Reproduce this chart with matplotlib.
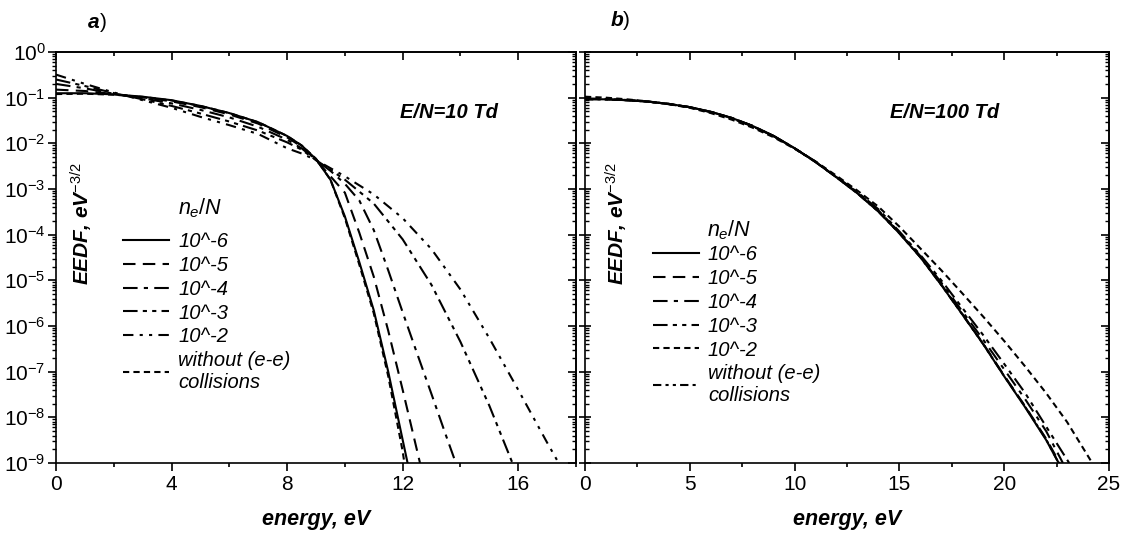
import numpy as np
import matplotlib
matplotlib.use('Agg')
import matplotlib.pyplot as plt
from matplotlib.ticker import LogLocator, MultipleLocator, NullFormatter

plt.rcParams['font.family'] = 'Liberation Sans'
plt.rcParams['mathtext.fontset'] = 'custom'
plt.rcParams['mathtext.rm'] = 'Liberation Sans'
plt.rcParams['mathtext.it'] = 'Liberation Sans:italic'
plt.rcParams['mathtext.bf'] = 'Liberation Sans:bold'

# ---- panel a) E/N = 10 Td ----
a_E_e6 = [0, 1, 2, 3, 4, 5, 6, 7, 8, 8.5, 9, 9.5, 10, 10.5, 11, 11.5, 12, 12.17]
a_F_e6 = [0.125, 0.125, 0.118, 0.105, 0.088, 0.066, 0.046, 0.029, 0.0145, 0.009, 0.0045,
          1.6e-3, 2.5e-4, 2.5e-5, 2.2e-6, 1e-7, 3.2e-9, 1e-9]
a_E_e5 = [0, 1, 2, 3, 4, 5, 6, 7, 8, 8.5, 9, 9.5, 10, 10.5, 11, 11.5, 12, 12.6]
a_F_e5 = [0.15, 0.14, 0.12, 0.102, 0.083, 0.062, 0.043, 0.027, 0.0135, 0.0085, 0.0043,
          1.9e-3, 8.3e-4, 1.1e-4, 1.2e-5, 7.9e-7, 4e-8, 1e-9]
a_E_e4 = [0, 1, 2, 3, 4, 5, 6, 7, 8, 8.5, 9, 9.5, 10, 10.5, 11, 11.5, 12, 12.5, 13, 13.5, 13.84]
a_F_e4 = [0.2, 0.16, 0.122, 0.097, 0.075, 0.054, 0.037, 0.023, 0.012, 0.0078, 0.0043,
          2.5e-3, 1.3e-3, 5.6e-4, 1.26e-4, 1.66e-5, 2e-6, 2.5e-7, 3.2e-8, 4e-9, 1e-9]
a_E_e3 = [0, 1, 2, 3, 4, 5, 6, 7, 8, 8.5, 9, 10, 11, 12, 13, 14, 15, 15.8]
a_F_e3 = [0.25, 0.18, 0.126, 0.092, 0.066, 0.045, 0.03, 0.019, 0.0105, 0.0073, 0.0043,
          1.6e-3, 4.8e-4, 7.9e-5, 7.9e-6, 4.5e-7, 1.8e-8, 1e-9]
a_E_e2 = [0, 1, 2, 3, 4, 5, 6, 7, 8, 8.5, 9, 10, 11, 12, 13, 14, 15, 16, 17, 17.4]
a_F_e2 = [0.32, 0.2, 0.13, 0.088, 0.06, 0.038, 0.025, 0.016, 0.0078, 0.006, 0.0043,
          1.9e-3, 7.6e-4, 2.3e-4, 4.8e-5, 6.3e-6, 5.4e-7, 4e-8, 2.8e-9, 1e-9]
a_E_wo = [0, 1, 2, 3, 4, 5, 6, 7, 8, 8.5, 9, 9.5, 10, 10.5, 11, 11.5, 12, 12.06]
a_F_wo = [0.12, 0.122, 0.116, 0.104, 0.087, 0.066, 0.046, 0.029, 0.0145, 0.009, 0.0046,
          1.6e-3, 2.3e-4, 2.2e-5, 1.9e-6, 8e-8, 1.8e-9, 1e-9]

# ---- panel b) E/N = 100 Td ----
b_E = [0, 1, 2, 3, 4, 5, 6, 7, 8, 9, 10, 11, 12, 13, 14, 15, 16, 17, 18, 19, 20, 21, 22]
b_F_e6 = [0.093, 0.092, 0.088, 0.082, 0.073, 0.062, 0.049, 0.036, 0.024, 0.0145, 0.0078,
          3.9e-3, 1.8e-3, 8e-4, 3.2e-4, 1.07e-4, 3.2e-5, 7.9e-6, 1.8e-6, 4e-7, 7.9e-8,
          1.66e-8, 3.2e-9]
b_F_e5 = [0.093, 0.092, 0.088, 0.082, 0.073, 0.062, 0.049, 0.036, 0.024, 0.0145, 0.0078,
          3.9e-3, 1.8e-3, 8.1e-4, 3.25e-4, 1.09e-4, 3.3e-5, 8.1e-6, 1.85e-6, 4.1e-7, 8.2e-8,
          1.75e-8, 3.4e-9]
b_F_e4 = [0.094, 0.093, 0.088, 0.082, 0.073, 0.062, 0.049, 0.036, 0.024, 0.0145, 0.0078,
          3.9e-3, 1.82e-3, 8.3e-4, 3.4e-4, 1.12e-4, 3.4e-5, 8.9e-6, 2.1e-6, 5e-7, 1.12e-7,
          2.5e-8, 5e-9]
b_F_e3 = [0.096, 0.094, 0.089, 0.082, 0.072, 0.061, 0.048, 0.035, 0.0235, 0.0143, 0.0078,
          4e-3, 1.85e-3, 8.5e-4, 3.6e-4, 1.17e-4, 3.6e-5, 1e-5, 2.5e-6, 6.3e-7, 1.48e-7,
          3.4e-8, 6.3e-9]
b_F_e2 = [0.105, 0.1, 0.092, 0.083, 0.072, 0.06, 0.046, 0.033, 0.022, 0.0136, 0.0076,
          4e-3, 1.95e-3, 9.2e-4, 4.1e-4, 1.5e-4, 5e-5, 1.66e-5, 5.2e-6, 1.6e-6, 4.7e-7,
          1.3e-7, 3.4e-8]
b_F_wo = [0.092, 0.091, 0.088, 0.082, 0.073, 0.062, 0.049, 0.036, 0.024, 0.0145, 0.0078,
          3.9e-3, 1.8e-3, 8e-4, 3.2e-4, 1.07e-4, 3.2e-5, 7.9e-6, 1.8e-6, 4e-7, 8e-8,
          1.7e-8, 3.3e-9]
# where each curve reaches the bottom of the panel (1e-9)
b_E_end = {'e6': 22.6, 'e5': 22.65, 'e4': 22.8, 'e3': 23.1, 'e2': 24.2, 'wo': 22.6}
b_E_e2_extra = [23]
b_F_e2_extra = [7.9e-9]

labels = ['10^-6', '10^-5', '10^-4', '10^-3', '10^-2', 'without (e-e)\ncollisions']

SOLID = '-'
DASH = (0, (6, 3.5))
DASHDOT = (0, (7, 3, 2, 3))
DASHDOTDOT = (0, (7, 2.5, 2, 2.5, 2, 2.5))
DASHDOTDOT2 = (0, (5, 3, 1.5, 3, 1.5, 3))
SHORTDASH = (0, (3, 2))
SHORTDASHDOT = (0, (4, 2, 1.5, 2, 1.5, 2))


def tail(E, F, end, extra_E=(), extra_F=()):
    return list(E) + list(extra_E) + [end], list(F) + list(extra_F) + [1e-9]


a_series = [(a_E_e6, a_F_e6, SOLID), (a_E_e5, a_F_e5, DASH), (a_E_e4, a_F_e4, DASHDOT),
            (a_E_e3, a_F_e3, DASHDOTDOT), (a_E_e2, a_F_e2, DASHDOTDOT2),
            (a_E_wo, a_F_wo, SHORTDASH)]
b_series = [(*tail(b_E, b_F_e6, b_E_end['e6']), SOLID),
            (*tail(b_E, b_F_e5, b_E_end['e5']), DASH),
            (*tail(b_E, b_F_e4, b_E_end['e4']), DASHDOT),
            (*tail(b_E, b_F_e3, b_E_end['e3']), DASHDOTDOT),
            (*tail(b_E, b_F_e2, b_E_end['e2'], b_E_e2_extra, b_F_e2_extra), SHORTDASH),
            (*tail(b_E, b_F_wo, b_E_end['wo']), SHORTDASHDOT)]

W, H = 1125, 538
fig = plt.figure(figsize=(W / 100, H / 100), dpi=100)
ax_a = fig.add_axes([56 / W, 75 / H, 520 / W, 411 / H])
ax_b = fig.add_axes([585 / W, 75 / H, 524 / W, 411 / H])


def style_axes(ax, xmax, xmajor, xminor, left_dir, left_labels):
    ax.set_yscale('log')
    ax.set_ylim(1e-9, 1)
    ax.set_xlim(0, xmax)
    for sp in ax.spines.values():
        sp.set_linewidth(1.2)
    ax.xaxis.set_major_locator(MultipleLocator(xmajor))
    ax.xaxis.set_minor_locator(MultipleLocator(xminor))
    ax.yaxis.set_major_locator(LogLocator(base=10, numticks=20))
    ax.yaxis.set_minor_locator(LogLocator(base=10, subs=np.arange(2, 10), numticks=200))
    ax.yaxis.set_minor_formatter(NullFormatter())
    ax.tick_params(axis='x', which='major', direction='out', length=5.5, width=1.2,
                   labelsize=15, pad=3, top=False)
    ax.tick_params(axis='x', which='minor', direction='out', length=3.2, width=1.2, top=False)
    ax.tick_params(axis='y', which='major', direction=left_dir,
                   length=8 if left_dir == 'inout' else 5.5, width=1.2,
                   labelsize=15, pad=2, right=False, labelleft=left_labels)
    ax.tick_params(axis='y', which='minor', direction='in' if left_dir == 'inout' else 'out',
                   length=3.2, width=1.0, right=False)

    top = ax.secondary_xaxis('top')
    top.xaxis.set_major_locator(MultipleLocator(xmajor))
    top.xaxis.set_minor_locator(MultipleLocator(xminor))
    top.tick_params(which='major', direction='in', length=5.5, width=1.2, labeltop=False)
    top.tick_params(which='minor', direction='in', length=3.2, width=1.2)
    top.spines['top'].set_linewidth(1.2)

    right = ax.secondary_yaxis('right')
    right.yaxis.set_major_locator(LogLocator(base=10, numticks=20))
    right.yaxis.set_minor_locator(LogLocator(base=10, subs=np.arange(2, 10), numticks=200))
    right.yaxis.set_minor_formatter(NullFormatter())
    right.tick_params(which='major', direction='in', length=5.5, width=1.2, labelright=False)
    right.tick_params(which='minor', direction='in', length=3.2, width=1.0)
    right.spines['right'].set_linewidth(1.2)

    ax.set_xlabel('energy, eV', fontsize=15.5, fontweight='bold', fontstyle='italic',
                  labelpad=11)


def draw_panel(ax, series, ylab_x, title_xy, leg_xy):
    handles = []
    for E, F, ls in series:
        line, = ax.plot(E, F, color='black', lw=1.5, linestyle=ls)
        handles.append(line)
    ax.text(ylab_x, 0.584, r'EEDF, eV$^{\mathit{-3/2}}$', transform=ax.transAxes,
            rotation=90, ha='center', va='center', fontsize=15, fontweight='bold',
            fontstyle='italic')
    ax.text(title_xy[0], title_xy[1], r'$n_e/N$', transform=ax.transAxes,
            ha='center', va='center', fontsize=15.5)
    ax.legend(handles, labels, loc='upper left', bbox_to_anchor=leg_xy,
              frameon=False, borderpad=0, borderaxespad=0, handlelength=2.3,
              handletextpad=0.45, labelspacing=0.24,
              prop={'style': 'italic', 'size': 14.5})


style_axes(ax_a, 18, 4, 2, 'out', True)
style_axes(ax_b, 25, 5, 2.5, 'inout', False)

draw_panel(ax_a, a_series, 0.05, (0.277, 0.62), (0.129, 0.562))
draw_panel(ax_b, b_series, 0.06, (0.276, 0.567), (0.129, 0.53))

ax_a.text(0.755, 0.853, 'E/N=10 Td', transform=ax_a.transAxes, ha='center', va='center',
          fontsize=14.5, fontweight='bold', fontstyle='italic')
ax_b.text(0.686, 0.853, 'E/N=100 Td', transform=ax_b.transAxes, ha='center', va='center',
          fontsize=14.5, fontweight='bold', fontstyle='italic')

fig.text(100 / W, 1 - 23 / H, 'a', ha='right', va='center', fontsize=15,
         fontweight='bold', fontstyle='italic')
fig.text(100 / W, 1 - 23 / H, ')', ha='left', va='center', fontsize=15)
fig.text(623 / W, 1 - 21 / H, 'b', ha='right', va='center', fontsize=15,
         fontweight='bold', fontstyle='italic')
fig.text(623 / W, 1 - 21 / H, ')', ha='left', va='center', fontsize=15)

fig.savefig('out.png', dpi=100)
